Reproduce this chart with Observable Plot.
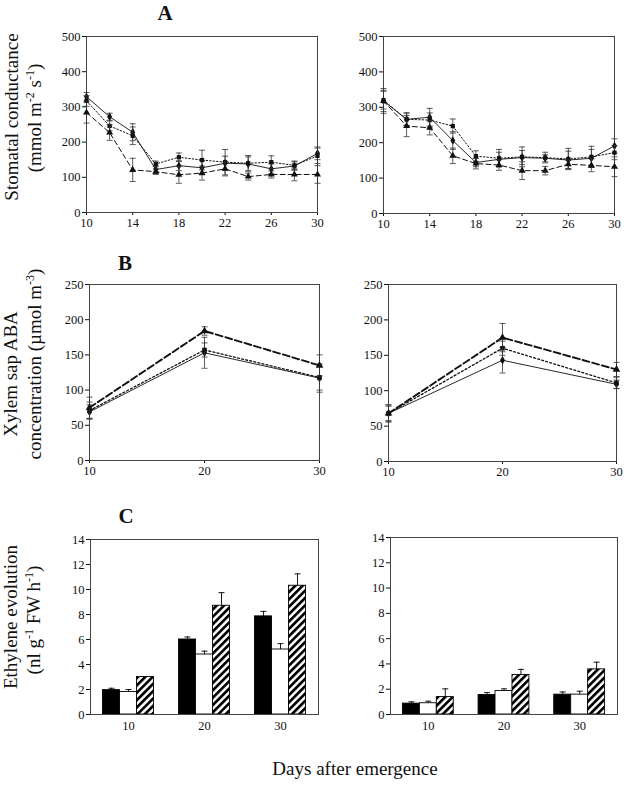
<!DOCTYPE html>
<html><head><meta charset="utf-8">
<script src="https://cdn.jsdelivr.net/npm/d3@7"></script>
<script src="https://cdn.jsdelivr.net/npm/@observablehq/plot@0.6"></script>
<style>
body{margin:0;background:#fff;}
#root{position:relative;width:627px;height:785px;overflow:hidden;font-family:'Liberation Serif','Times New Roman',serif;background:#fff;}
#root svg{position:absolute;font-family:'Liberation Serif','Times New Roman',serif !important;}
#root svg.panel{font-size:12.5px !important;}
#root svg.panel text{font-family:'Liberation Serif','Times New Roman',serif !important;}
</style></head><body>
<div id="root">
<svg width="0" height="0" style="position:absolute;left:0;top:0">
  <defs>
    <pattern id="hatch" patternUnits="userSpaceOnUse" width="5.2" height="5.2" patternTransform="rotate(45)">
      <rect width="5.2" height="5.2" fill="white"/>
      <rect width="2.7" height="5.2" fill="black"/>
    </pattern>
  </defs>
</svg>
</div>
<script>
// ---------------- data ----------------
const daysA = [10, 12, 14, 16, 18, 20, 22, 24, 26, 28, 30];
const xTicksA = [10, 14, 18, 22, 26, 30];
const yTicksA = [0, 100, 200, 300, 400, 500];

// Panel A, left
const aLeftSolid     = [329, 272, 228, 122, 133, 127, 140, 138, 124, 132, 168];
const aLeftSolidErr  = [12, 10, 24, 10, 14, 20, 20, 20, 14, 12, 18];
const aLeftDotted    = [317, 246, 218, 138, 157, 149, 143, 140, 143, 134, 161];
const aLeftDottedErr = [15, 14, 25, 8, 12, 28, 36, 22, 18, 12, 22];
const aLeftDashed    = [284, 227, 121, 116, 107, 112, 124, 102, 108, 108, 108];
const aLeftDashedErr = [30, 22, 33, 8, 24, 20, 20, 10, 10, 18, 25];

// Panel A, right
const aRightSolid     = [318, 266, 272, 206, 144, 153, 158, 156, 151, 156, 191];
const aRightSolidErr  = [30, 18, 25, 25, 12, 20, 20, 10, 25, 25, 20];
const aRightDotted    = [320, 266, 264, 247, 162, 156, 160, 158, 154, 160, 172];
const aRightDottedErr = [25, 18, 20, 20, 15, 25, 28, 15, 30, 30, 20];
const aRightDashed    = [318, 247, 242, 163, 141, 137, 121, 121, 139, 136, 132];
const aRightDashedErr = [35, 30, 20, 22, 15, 15, 25, 12, 12, 18, 28];

// Panel B
const daysB = [10, 20, 30];
const yTicksB = [0, 50, 100, 150, 200, 250];
const bLeftSolid     = [69, 153, 117];
const bLeftSolidErr  = [10, 22, 20];
const bLeftDotted    = [71, 157, 118];
const bLeftDottedErr = [12, 10, 18];
const bLeftDashed    = [75, 184, 135];
const bLeftDashedErr = [15, 6, 15];

const bRightSolid     = [68, 143, 109];
const bRightSolidErr  = [12, 18, 6];
const bRightDotted    = [68, 160, 111];
const bRightDottedErr = [10, 10, 8];
const bRightDashed    = [68, 175, 130];
const bRightDashedErr = [12, 20, 10];

// Panel C
const daysC = [10, 20, 30];
const yTicksC = [0, 2, 4, 6, 8, 10, 12, 14];
const cLeftBlack      = [1.95, 6.0, 7.85];
const cLeftBlackErr   = [0.15, 0.2, 0.4];
const cLeftWhite      = [1.8, 4.8, 5.2];
const cLeftWhiteErr   = [0.2, 0.27, 0.47];
const cLeftHatched    = [3.0, 8.7, 10.3];
const cLeftHatchedErr = [0, 1.05, 0.95];

const cRightBlack      = [0.86, 1.54, 1.57];
const cRightBlackErr   = [0.14, 0.19, 0.21];
const cRightWhite      = [0.89, 1.86, 1.57];
const cRightWhiteErr   = [0.16, 0.17, 0.27];
const cRightHatched    = [1.38, 3.13, 3.57];
const cRightHatchedErr = [0.65, 0.44, 0.57];

// ---------------- helpers ----------------
const root = document.getElementById("root");
const FONT = "'Liberation Serif','Times New Roman',serif";
const INK = "#111";
const capSymbol = {draw(ctx, size) { const r = Math.sqrt(size / Math.PI); ctx.moveTo(-r, 0); ctx.lineTo(r, 0); }};

function table(days, vals, errs) {
  return days.map((d, i) => ({day: d, v: vals[i], e: errs[i]}));
}

function place(svg, left, top) {
  svg.classList.add("panel");
  svg.style.left = left + "px";
  svg.style.top = top + "px";
  root.appendChild(svg);
}

function linePanel(frame, yDomain, yTicks, xTicks, series) {
  const mL = 36, mT = 8, mR = 8, mB = 26;
  const width = frame.r - frame.l + mL + mR;
  const height = frame.b - frame.t + mT + mB;
  const marks = [Plot.frame({stroke: "#444", strokeWidth: 1})];
  for (const s of series) {
    marks.push(Plot.ruleX(s.data, {x: "day", y1: d => d.v - d.e, y2: d => d.v + d.e, stroke: "#333", strokeWidth: 0.8}));
    marks.push(Plot.dot(s.data, {x: "day", y: d => d.v - d.e, symbol: capSymbol, r: 3, stroke: "#333", fill: "none", strokeWidth: 0.8}));
    marks.push(Plot.dot(s.data, {x: "day", y: d => d.v + d.e, symbol: capSymbol, r: 3, stroke: "#333", fill: "none", strokeWidth: 0.8}));
    marks.push(Plot.line(s.data, {x: "day", y: "v", stroke: INK, strokeWidth: s.width, strokeDasharray: s.dash}));
    marks.push(Plot.dot(s.data, {x: "day", y: "v", symbol: s.symbol, r: s.r, fill: INK, stroke: "none"}));
  }
  const svg = Plot.plot({
    width, height, marginLeft: mL, marginTop: mT, marginRight: mR, marginBottom: mB,
    style: {fontFamily: FONT, fontSize: "12.5px", color: INK, background: "transparent", overflow: "visible"},
    x: {domain: [10, 30], ticks: xTicks, tickSize: 3, tickPadding: 3, tickFormat: d => String(d), label: null},
    y: {domain: yDomain, ticks: yTicks, tickSize: 4, tickPadding: 2, tickFormat: d => String(d), label: null},
    marks
  });
  place(svg, frame.l - mL, frame.t - mT);
}

function barPanel(frame, groups) {
  const mL = 36, mT = 8, mR = 8, mB = 26;
  const width = frame.r - frame.l + mL + mR;
  const height = frame.b - frame.t + mT + mB;
  const barW = 2.24; // width of one bar in days
  const marks = [];
  groups.forEach((g, k) => {
    const off = (k - 1.5) * barW;
    marks.push(Plot.rectY(g.data, {x1: d => d.day + off, x2: d => d.day + off + barW, y1: 0, y2: "v", fill: g.fill, stroke: "#000", strokeWidth: 0.9}));
    const withErr = g.data.filter(d => d.e > 0);
    marks.push(Plot.ruleX(withErr, {x: d => d.day + off + barW / 2, y1: "v", y2: d => d.v + d.e, stroke: "#000", strokeWidth: 0.9}));
    marks.push(Plot.dot(withErr, {x: d => d.day + off + barW / 2, y: d => d.v + d.e, symbol: capSymbol, r: 3, stroke: "#000", fill: "none", strokeWidth: 0.9}));
  });
  marks.push(Plot.frame({stroke: "#444", strokeWidth: 1}));
  const svg = Plot.plot({
    width, height, marginLeft: mL, marginTop: mT, marginRight: mR, marginBottom: mB,
    style: {fontFamily: FONT, fontSize: "12.5px", color: INK, background: "transparent", overflow: "visible"},
    x: {domain: [5, 35], ticks: [10, 20, 30], tickSize: 0, tickPadding: 7, tickFormat: d => String(d), label: null},
    y: {domain: [0, 14], ticks: yTicksC, tickSize: 4, tickPadding: 2, tickFormat: d => String(d), label: null},
    marks
  });
  place(svg, frame.l - mL, frame.t - mT);
}

// ---------------- panels ----------------
const styleA = {
  solid:  {width: 0.9, dash: null,    symbol: "diamond",  r: 2.6},
  dotted: {width: 1.0, dash: "1.5,2", symbol: "square",   r: 2.4},
  dashed: {width: 1.0, dash: "5,3",   symbol: "triangle", r: 2.6}
};
const styleB = {
  solid:  {width: 0.9, dash: null,    symbol: "diamond",  r: 2.6},
  dotted: {width: 1.3, dash: "2,2.2", symbol: "square",   r: 2.6},
  dashed: {width: 1.9, dash: "7,3",   symbol: "triangle", r: 2.8}
};

linePanel({l: 86, t: 36, r: 317, b: 212}, [0, 500], yTicksA, xTicksA, [
  {...styleA.solid,  data: table(daysA, aLeftSolid, aLeftSolidErr)},
  {...styleA.dotted, data: table(daysA, aLeftDotted, aLeftDottedErr)},
  {...styleA.dashed, data: table(daysA, aLeftDashed, aLeftDashedErr)}
]);
linePanel({l: 383, t: 36, r: 614, b: 213}, [0, 500], yTicksA, xTicksA, [
  {...styleA.solid,  data: table(daysA, aRightSolid, aRightSolidErr)},
  {...styleA.dotted, data: table(daysA, aRightDotted, aRightDottedErr)},
  {...styleA.dashed, data: table(daysA, aRightDashed, aRightDashedErr)}
]);
linePanel({l: 89, t: 284, r: 319, b: 460}, [0, 250], yTicksB, daysB, [
  {...styleB.solid,  data: table(daysB, bLeftSolid, bLeftSolidErr)},
  {...styleB.dotted, data: table(daysB, bLeftDotted, bLeftDottedErr)},
  {...styleB.dashed, data: table(daysB, bLeftDashed, bLeftDashedErr)}
]);
linePanel({l: 388, t: 284, r: 616, b: 461}, [0, 250], yTicksB, daysB, [
  {...styleB.solid,  data: table(daysB, bRightSolid, bRightSolidErr)},
  {...styleB.dotted, data: table(daysB, bRightDotted, bRightDottedErr)},
  {...styleB.dashed, data: table(daysB, bRightDashed, bRightDashedErr)}
]);
barPanel({l: 90, t: 539, r: 318, b: 714}, [
  {fill: "black", data: table(daysC, cLeftBlack, cLeftBlackErr)},
  {fill: "white", data: table(daysC, cLeftWhite, cLeftWhiteErr)},
  {fill: "url(#hatch)", data: table(daysC, cLeftHatched, cLeftHatchedErr)}
]);
barPanel({l: 390, t: 537, r: 617, b: 714}, [
  {fill: "black", data: table(daysC, cRightBlack, cRightBlackErr)},
  {fill: "white", data: table(daysC, cRightWhite, cRightWhiteErr)},
  {fill: "url(#hatch)", data: table(daysC, cRightHatched, cRightHatchedErr)}
]);

// ---------------- text overlay ----------------
const NS = "http://www.w3.org/2000/svg";
const overlay = document.createElementNS(NS, "svg");
overlay.setAttribute("width", 627);
overlay.setAttribute("height", 785);
overlay.style.left = "0px"; overlay.style.top = "0px";
overlay.style.pointerEvents = "none";
overlay.setAttribute("fill", INK);
root.appendChild(overlay);

function addText(parts, {x, y, size = 19, rotate = 0, weight = "normal", anchor = "middle"}) {
  const t = document.createElementNS(NS, "text");
  t.setAttribute("transform", `translate(${x},${y}) rotate(${rotate})`);
  t.setAttribute("text-anchor", anchor);
  t.setAttribute("font-size", size);
  t.setAttribute("font-weight", weight);
  let shift = 0;
  for (const p of parts) {
    const s = document.createElementNS(NS, "tspan");
    const sup = typeof p === "object";
    const txt = sup ? p.sup : p;
    const target = sup ? -7 : 0;
    if (target !== shift) { s.setAttribute("dy", target - shift); shift = target; }
    if (sup) s.setAttribute("font-size", 12);
    s.textContent = txt;
    t.appendChild(s);
  }
  overlay.appendChild(t);
}

addText(["A"], {x: 165, y: 20, size: 21, weight: "bold"});
addText(["B"], {x: 125, y: 270, size: 21, weight: "bold"});
addText(["C"], {x: 126, y: 523, size: 21, weight: "bold"});

addText(["Stomatal conductance"], {x: 18, y: 117, rotate: -90});
addText(["(mmol m", {sup: "-2"}, " s", {sup: "-1"}, ")"], {x: 41, y: 118, rotate: -90});
addText(["Xylem sap ABA"], {x: 17, y: 374, rotate: -90});
addText(["concentration (\u00b5mol m", {sup: "-3"}, ")"], {x: 41, y: 364, rotate: -90});
addText(["Ethylene evolution"], {x: 17, y: 617, rotate: -90});
addText(["(nl g", {sup: "-1"}, " FW h", {sup: "-1"}, ")"], {x: 40, y: 620, rotate: -90});

addText(["Days after emergence"], {x: 355, y: 775, size: 19});
</script>
</body></html>
